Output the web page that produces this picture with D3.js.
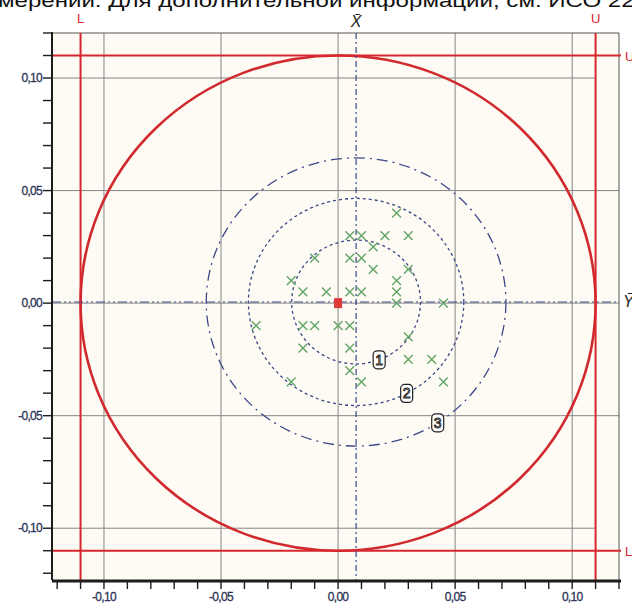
<html>
<head>
<meta charset="utf-8">
<style>
  body { margin: 0; background: #ffffff; }
  svg { display: block; }
  text { font-family: "Liberation Sans", Arial, sans-serif; }
</style>
<script src="https://cdn.jsdelivr.net/npm/d3@7"></script>
</head>
<body>
<svg id="chart"></svg>
<script>
// values
let pointsX = [0.025, 0.005, 0.010, 0.020, 0.030, 0.015, -0.010, 0.005, 0.010, 0.015, 0.030,
               -0.020, 0.025, -0.015, -0.005, 0.005, 0.010, 0.025, 0.025, 0.045, -0.035,
               -0.015, -0.010, 0.000, 0.005, 0.030, -0.015, 0.005, 0.030, 0.040, 0.005,
               0.010, -0.020, 0.045]
let pointsY = [0.040, 0.030, 0.030, 0.030, 0.030, 0.025, 0.020, 0.020, 0.020, 0.015, 0.015,
               0.010, 0.010, 0.005, 0.005, 0.005, 0.005, 0.005, 0.000, 0.000, -0.010,
               -0.010, -0.010, -0.010, -0.010, -0.015, -0.020, -0.020, -0.025, -0.025, -0.030,
               -0.035, -0.035, -0.035]
let meanX = 0.0077
let meanY = 0.0005
let targetX = 0.0
let targetY = 0.0
let toleranceRadius = 0.11          // red circle
let lowerLimit = -0.11, upperLimit = 0.11
let ringRadii = [0.0275, 0.046, 0.064]
let ringLabels = ["1", "2", "3"]
let ringLabelAngles = [-69, -62, -57] // degrees, where the number boxes sit on each ring
let majorTicks = [-0.10, -0.05, 0.00, 0.05, 0.10]
let minorTicks = d3.range(-12, 13).map(d => d / 100)
let headerText = "мерении. Для дополнительной информации, см. ИСО 225"

function getConfig() {
  let width = 632, height = 611
  let plot = { left: 52, right: 619, top: 33, bottom: 580 }
  let svg = d3.select("#chart").attr("width", width).attr("height", height)
  return { width, height, plot, svg }
}

function getScales(config) {
  let { plot } = config
  let xScale = d3.scaleLinear().domain([-0.1222, 0.12]).range([plot.left, plot.right])
  let yScale = d3.scaleLinear().domain([-0.123, 0.12]).range([plot.bottom, plot.top])
  return { xScale, yScale }
}

function fmt(v) {
  return d3.format(".2f")(v).replace(".", ",").replace("−", "-")
}

function drawFrame(config, scales) {
  let { svg, plot } = config
  let { xScale, yScale } = scales

  svg.append("rect")
    .attr("x", plot.left).attr("y", plot.top)
    .attr("width", plot.right - plot.left).attr("height", plot.bottom - plot.top)
    .attr("fill", "#fefbf4")

  // grid
  svg.append("g").selectAll("line").data(majorTicks).enter().append("line")
    .attr("x1", d => xScale(d)).attr("x2", d => xScale(d))
    .attr("y1", plot.top).attr("y2", plot.bottom)
    .attr("stroke", "#858585").attr("stroke-width", 1)
  svg.append("g").selectAll("line").data(majorTicks).enter().append("line")
    .attr("x1", plot.left)
    .attr("x2", d => Math.abs(d) > 0.07 ? xScale(upperLimit) : plot.right)
    .attr("y1", d => yScale(d)).attr("y2", d => yScale(d))
    .attr("stroke", "#858585").attr("stroke-width", 1)

  // top / right border
  svg.append("path")
    .attr("d", `M${plot.left},${plot.top}H${plot.right}V${plot.bottom}`)
    .attr("fill", "none").attr("stroke", "#555").attr("stroke-width", 1)

  // header text cut at the top of the page
  svg.append("text")
    .attr("x", -2).attr("y", 7)
    .attr("font-size", 19)
    .attr("textLength", 650).attr("lengthAdjust", "spacingAndGlyphs")
    .attr("fill", "#111")
    .text(headerText)
}

function drawLimits(config, scales) {
  let { svg, plot } = config
  let { xScale, yScale } = scales
  let red = "#d7262d"

  svg.append("ellipse")
    .attr("cx", xScale(targetX)).attr("cy", yScale(targetY))
    .attr("rx", xScale(toleranceRadius) - xScale(0))
    .attr("ry", yScale(0) - yScale(toleranceRadius))
    .attr("fill", "none").attr("stroke", "#d02a2f").attr("stroke-width", 2.6)

  let limits = [lowerLimit, upperLimit]
  svg.append("g").selectAll("line").data(limits).enter().append("line")
    .attr("x1", d => xScale(d)).attr("x2", d => xScale(d))
    .attr("y1", plot.top).attr("y2", plot.bottom)
    .attr("stroke", red).attr("stroke-width", 2)
  svg.append("g").selectAll("line").data(limits).enter().append("line")
    .attr("x1", plot.left).attr("x2", plot.right + 2)
    .attr("y1", d => yScale(d)).attr("y2", d => yScale(d))
    .attr("stroke", red).attr("stroke-width", 2)

  // L / U letters
  let letter = d => d < 0 ? "L" : "U"
  svg.append("g").selectAll("text").data(limits).enter().append("text")
    .attr("x", d => xScale(d)).attr("y", 23)
    .attr("text-anchor", "middle").attr("font-size", 13)
    .attr("fill", red).text(letter)
  svg.append("g").selectAll("text").data(limits).enter().append("text")
    .attr("x", 625).attr("y", d => yScale(d) + 5)
    .attr("font-size", 13)
    .attr("fill", red).text(letter)
}

function drawMeans(config, scales) {
  let { svg, plot } = config
  let { xScale, yScale } = scales
  let blue = "#3a4888"

  let cx = xScale(meanX), cy = yScale(meanY)
  let dashes = ["3,3", "3,3", "11,5,2,5"]
  svg.append("g").selectAll("ellipse").data(ringRadii).enter().append("ellipse")
    .attr("cx", cx).attr("cy", cy)
    .attr("rx", d => xScale(d) - xScale(0))
    .attr("ry", d => yScale(0) - yScale(d))
    .attr("fill", "none").attr("stroke", blue).attr("stroke-width", 1.3)
    .attr("stroke-dasharray", (d, i) => dashes[i])

  svg.append("line")
    .attr("x1", cx).attr("x2", cx).attr("y1", plot.top).attr("y2", plot.bottom)
    .attr("stroke", blue).attr("stroke-width", 1.2).attr("stroke-dasharray", "6,3,2,3")
  svg.append("line")
    .attr("x1", plot.left).attr("x2", plot.right).attr("y1", cy).attr("y2", cy)
    .attr("stroke", blue).attr("stroke-width", 1.2).attr("stroke-dasharray", "9,3,2,3,2,3")

  svg.append("text")
    .attr("x", cx).attr("y", 27)
    .attr("text-anchor", "middle")
    .attr("font-family", "'Liberation Serif', 'DejaVu Serif', serif")
    .attr("font-style", "italic").attr("font-size", 16).attr("fill", "#222")
    .text("X\u0304")
  svg.append("text")
    .attr("x", 623).attr("y", cy + 5)
    .attr("font-family", "'Liberation Serif', 'DejaVu Serif', serif")
    .attr("font-style", "italic").attr("font-size", 16).attr("fill", "#222")
    .text("Y\u0304")

  // ring numbers
  let labels = svg.append("g").selectAll("g").data(ringRadii).enter().append("g")
    .attr("transform", (d, i) => {
      let a = ringLabelAngles[i] * Math.PI / 180
      let px = xScale(meanX + d * Math.cos(a))
      let py = yScale(meanY + d * Math.sin(a))
      return `translate(${px},${py})`
    })
  labels.append("rect")
    .attr("x", -6).attr("y", -9).attr("width", 12).attr("height", 18).attr("rx", 4)
    .attr("fill", "#fff").attr("stroke", "#222").attr("stroke-width", 1.2)
  labels.append("text")
    .attr("y", 5).attr("text-anchor", "middle").attr("font-size", 14)
    .attr("fill", "#fff").attr("stroke", "#222").attr("stroke-width", 0.9)
    .text((d, i) => ringLabels[i])
}

function drawPoints(config, scales) {
  let { svg } = config
  let { xScale, yScale } = scales
  let symbol = d3.symbol(d3.symbolX, 52)
  svg.append("g").selectAll("path").data(pointsX).enter().append("path")
    .attr("d", symbol)
    .attr("transform", (d, i) => `translate(${xScale(d)},${yScale(pointsY[i])})`)
    .attr("fill", "none").attr("stroke", "#62a566").attr("stroke-width", 1.4)

  svg.append("rect")
    .attr("x", xScale(targetX) - 4).attr("y", yScale(targetY) - 5)
    .attr("width", 8).attr("height", 10)
    .attr("fill", "#e0393a")
}

function drawAxes(config, scales) {
  let { svg, plot } = config
  let { xScale, yScale } = scales
  let axisColor = "#1c1c1c"
  let labelColor = "#2b3355"

  // x axis
  svg.append("g").selectAll("line").data(minorTicks).enter().append("line")
    .attr("x1", d => xScale(d)).attr("x2", d => xScale(d))
    .attr("y1", plot.bottom).attr("y2", plot.bottom + 9)
    .attr("stroke", axisColor).attr("stroke-width", 1.4)
  svg.append("line")
    .attr("x1", plot.left).attr("x2", plot.right + 2)
    .attr("y1", plot.bottom + 1).attr("y2", plot.bottom + 1)
    .attr("stroke", axisColor).attr("stroke-width", 3)
  svg.append("g").selectAll("text").data(majorTicks).enter().append("text")
    .attr("x", d => xScale(d)).attr("y", 601)
    .attr("text-anchor", "middle").attr("font-size", 12)
    .attr("letter-spacing", -0.7)
    .attr("fill", labelColor).attr("stroke", labelColor).attr("stroke-width", 0.3)
    .text(fmt)

  // y axis
  svg.append("g").selectAll("line").data(minorTicks).enter().append("line")
    .attr("x1", plot.left - 9).attr("x2", plot.left)
    .attr("y1", d => yScale(d)).attr("y2", d => yScale(d))
    .attr("stroke", axisColor).attr("stroke-width", 1.4)
  svg.append("line")
    .attr("x1", plot.left).attr("x2", plot.left)
    .attr("y1", plot.top - 1).attr("y2", plot.bottom)
    .attr("stroke", axisColor).attr("stroke-width", 2)
  svg.append("g").selectAll("text").data(majorTicks).enter().append("text")
    .attr("x", 42).attr("y", d => yScale(d) + 4)
    .attr("text-anchor", "end").attr("font-size", 12)
    .attr("letter-spacing", -0.7)
    .attr("fill", labelColor).attr("stroke", labelColor).attr("stroke-width", 0.3)
    .text(fmt)
}

function showChart() {
  let config = getConfig()
  let scales = getScales(config)
  drawFrame(config, scales)
  drawLimits(config, scales)
  drawMeans(config, scales)
  drawPoints(config, scales)
  drawAxes(config, scales)
}

showChart()
</script>
</body>
</html>
